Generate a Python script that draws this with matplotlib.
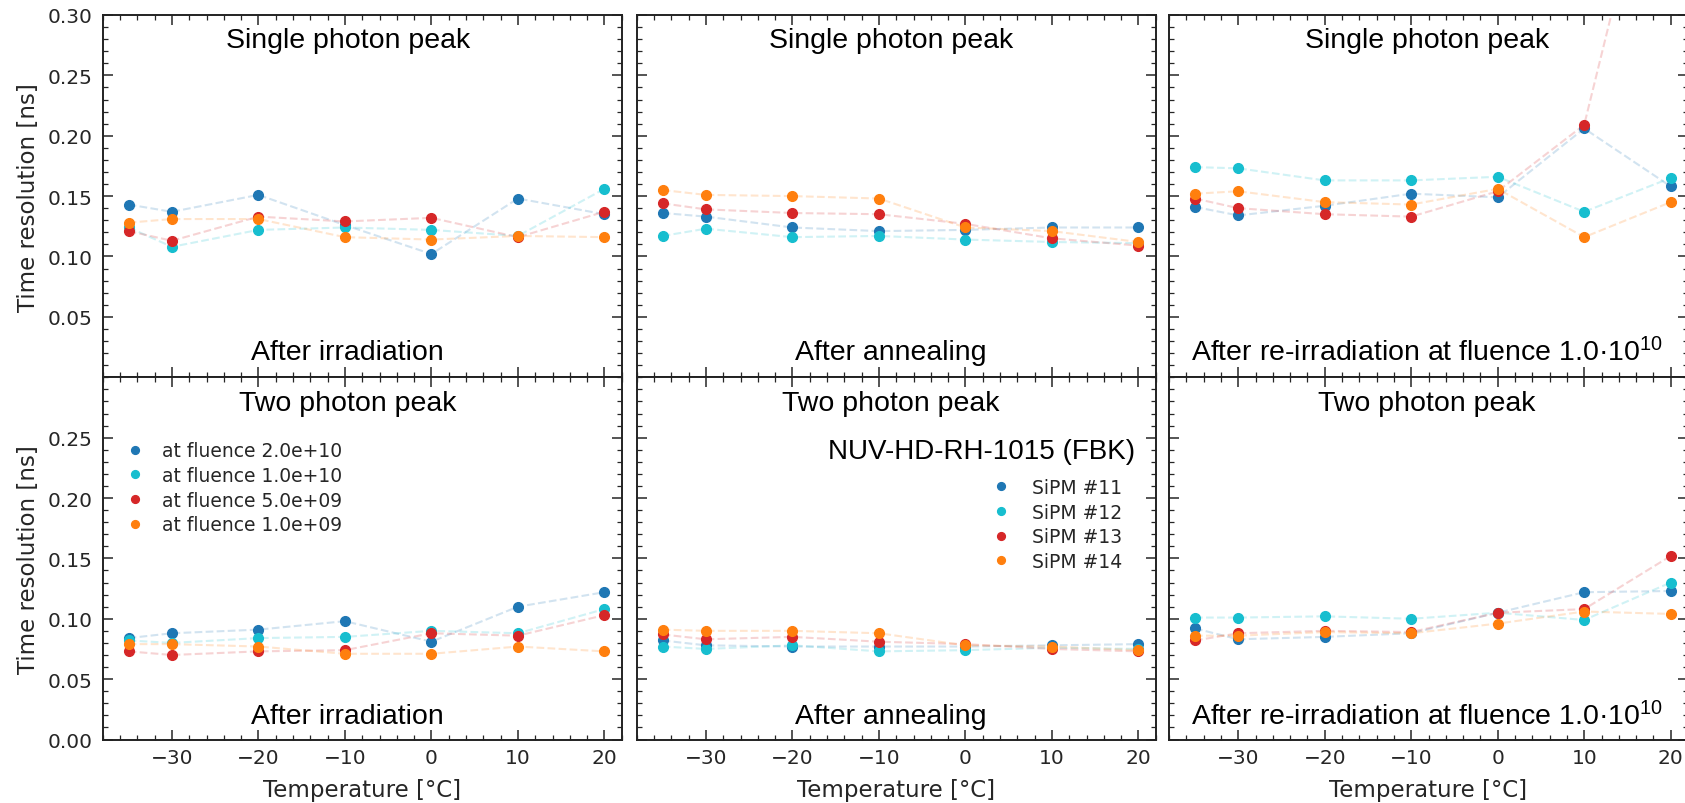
import matplotlib
matplotlib.use('Agg')
import matplotlib.pyplot as plt
from matplotlib.ticker import MultipleLocator
import numpy as np

plt.rcParams['mathtext.fontset'] = 'custom'
plt.rcParams['mathtext.rm'] = 'Liberation Sans'
plt.rcParams['mathtext.it'] = 'Liberation Sans:italic'
plt.rcParams['mathtext.bf'] = 'Liberation Sans:bold'

# temperatures [degC]
temps = [-35, -30, -20, -10, 0, 10, 20]

# series order in every panel: blue, cyan, red, orange
# single photon peak
single_irr = [
    [0.143, 0.137, 0.151, 0.126, 0.102, 0.148, 0.135],
    [0.124, 0.108, 0.122, 0.124, 0.122, 0.117, 0.156],
    [0.121, 0.113, 0.133, 0.129, 0.132, 0.116, 0.137],
    [0.128, 0.131, 0.131, 0.116, 0.114, 0.117, 0.116],
]
single_ann = [
    [0.136, 0.133, 0.124, 0.121, 0.122, 0.124, 0.124],
    [0.117, 0.123, 0.116, 0.117, 0.114, 0.112, 0.111],
    [0.144, 0.139, 0.136, 0.135, 0.127, 0.115, 0.109],
    [0.155, 0.151, 0.150, 0.148, 0.124, 0.121, 0.112],
]
single_reirr = [
    [0.141, 0.134, 0.142, 0.152, 0.149, 0.206, 0.158],
    [0.174, 0.173, 0.163, 0.163, 0.166, 0.137, 0.165],
    [0.148, 0.140, 0.135, 0.133, 0.154, 0.209, 0.500],
    [0.152, 0.154, 0.145, 0.143, 0.156, 0.116, 0.145],
]
# two photon peak
two_irr = [
    [0.084, 0.088, 0.091, 0.098, 0.081, 0.110, 0.122],
    [0.082, 0.080, 0.084, 0.085, 0.090, 0.088, 0.108],
    [0.073, 0.070, 0.073, 0.074, 0.088, 0.086, 0.103],
    [0.079, 0.079, 0.077, 0.071, 0.071, 0.077, 0.073],
]
two_ann = [
    [0.082, 0.078, 0.077, 0.077, 0.077, 0.078, 0.079],
    [0.077, 0.075, 0.078, 0.073, 0.074, 0.076, 0.075],
    [0.087, 0.083, 0.085, 0.081, 0.079, 0.075, 0.073],
    [0.091, 0.090, 0.090, 0.088, 0.078, 0.077, 0.074],
]
two_reirr = [
    [0.092, 0.083, 0.085, 0.088, 0.105, 0.122, 0.123],
    [0.101, 0.101, 0.102, 0.100, 0.105, 0.099, 0.130],
    [0.082, 0.088, 0.090, 0.089, 0.105, 0.108, 0.152],
    [0.086, 0.086, 0.089, 0.088, 0.096, 0.106, 0.104],
]

colors = ['#1f77b4', '#17becf', '#d62728', '#ff7f0e']
fluence_labels = ['at fluence 2.0e+10', 'at fluence 1.0e+10',
                  'at fluence 5.0e+09', 'at fluence 1.0e+09']
sipm_labels = ['SiPM #11', 'SiPM #12', 'SiPM #13', 'SiPM #14']

top_texts = ['Single photon peak', 'Two photon peak']
bottom_texts = ['After irradiation', 'After annealing',
                'After re-irradiation at fluence 1.0\u00b710$^{10}$']
text_x = [0.472, 0.49, 0.497]

panels = [[single_irr, single_ann, single_reirr],
          [two_irr, two_ann, two_reirr]]

W, H = 1685, 804
fig = plt.figure(figsize=(W / 100, H / 100), dpi=100)

lefts = [102.7, 636.7, 1169.0]
pw = 519.0
row_top = [16.0, 378.3]
ph = 362.2

txt_font = 'Liberation Sans'
dark = '#262626'

for r in range(2):
    for c in range(3):
        ax = fig.add_axes([lefts[c] / W, 1 - (row_top[r] + ph) / H, pw / W, ph / H])
        data = panels[r][c]
        for k in range(4):
            ax.plot(temps, data[k], '--', color=colors[k], alpha=0.2, lw=1.5)
            ax.plot(temps, data[k], 'o', color=colors[k], ms=7, ls='none',
                    label=(fluence_labels if c == 0 else sipm_labels)[k])

        ax.set_xlim(-38, 22)
        ax.set_ylim(0, 0.30)
        ax.xaxis.set_major_locator(MultipleLocator(10))
        ax.xaxis.set_minor_locator(MultipleLocator(2))
        if r == 0:
            ax.set_yticks(np.arange(0.05, 0.301, 0.05))
        else:
            ax.set_yticks(np.arange(0.0, 0.251, 0.05))
        ax.yaxis.set_minor_locator(MultipleLocator(0.01))
        ax.tick_params(which='both', direction='in', top=True, right=True,
                       colors=dark, labelsize=14.5)
        ax.tick_params(which='major', length=7, width=1.1)
        ax.tick_params(which='minor', length=3.5, width=0.9)
        ax.tick_params(axis='y', pad=7)
        ax.tick_params(axis='x', pad=6)
        for sp in ax.spines.values():
            sp.set_linewidth(1.4)
            sp.set_color('#222222')

        if c != 0:
            ax.tick_params(labelleft=False)
        else:
            ax.set_ylabel('Time resolution [ns]', fontsize=16.5, color=dark, labelpad=6)
        if r == 0:
            ax.tick_params(labelbottom=False)
        else:
            ax.set_xlabel('Temperature [\u00b0C]', fontsize=16.5, color=dark, labelpad=8)

        ax.text(text_x[c], 0.93, top_texts[r], transform=ax.transAxes,
                ha='center', va='center', fontsize=20.5, family=txt_font)
        ax.text(text_x[c], 0.07 if r == 0 else 0.065, bottom_texts[c], transform=ax.transAxes,
                ha='center', va='center', fontsize=20.5, family=txt_font)

        if r == 1 and c == 0:
            ax.legend(loc='center left', bbox_to_anchor=(0.040, 0.695), frameon=False,
                      fontsize=13.5, labelspacing=0.3, handlelength=1.2,
                      handletextpad=0.85, borderpad=0, borderaxespad=0,
                      markerscale=0.8, labelcolor=dark)
        if r == 1 and c == 1:
            ax.text(0.961, 0.796, 'NUV-HD-RH-1015 (FBK)', transform=ax.transAxes,
                    ha='right', va='center', fontsize=20, family=txt_font)
            ax.legend(loc='center left', bbox_to_anchor=(0.681, 0.594), frameon=False,
                      fontsize=13.5, labelspacing=0.3, handlelength=1.2,
                      handletextpad=1.05, borderpad=0, borderaxespad=0,
                      markerscale=0.8, labelcolor=dark)

fig.savefig('out.png', dpi=100)
